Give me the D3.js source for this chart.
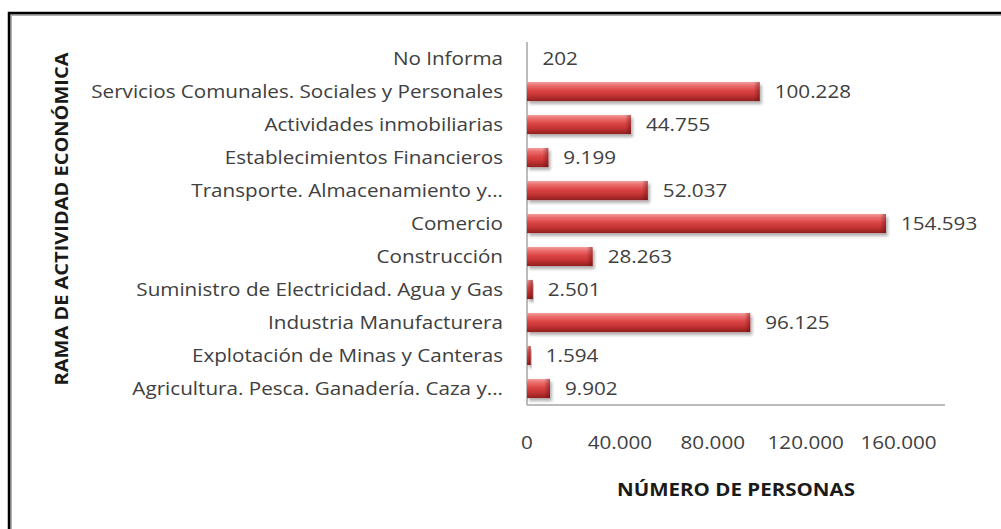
<!DOCTYPE html>
<html><head><meta charset="utf-8">
<script src="https://cdn.jsdelivr.net/npm/d3@7"></script>
<style>
html,body{margin:0;padding:0;background:#fff;}
svg{display:block;}
text{font-family:"Open Sans",Lato,sans-serif;}
</style></head>
<body>
<svg id="chart" width="1001" height="529"></svg>
<script>
const categories = [
  "No Informa",
  "Servicios Comunales. Sociales y Personales",
  "Actividades inmobiliarias",
  "Establecimientos Financieros",
  "Transporte. Almacenamiento y...",
  "Comercio",
  "Construcción",
  "Suministro de Electricidad. Agua y Gas",
  "Industria Manufacturera",
  "Explotación de Minas y Canteras",
  "Agricultura. Pesca. Ganadería. Caza y..."
];
const values = [202, 100228, 44755, 9199, 52037, 154593, 28263, 2501, 96125, 1594, 9902];
const tickValues = [0, 40000, 80000, 120000, 160000];
const xTitle = "NÚMERO DE PERSONAS";
const yTitle = "RAMA DE ACTIVIDAD ECONÓMICA";

const svg = d3.select("#chart");
const W = 1001, H = 529;
const FS = 18;

// measure a horizontal stretch so the text widths follow the reference
function measure(txt, size, weight) {
  const t = svg.append("text").attr("font-size", size).attr("font-weight", weight).text(txt);
  const w = t.node().getComputedTextLength();
  t.remove();
  return w;
}
const sReg = 412 / measure(categories[1], FS, "normal");
const sBold = 238 / measure(xTitle, 18, "bold");
const sBoldY = 333 / measure(yTitle, 18, "bold");

// frame
svg.append("rect").attr("x", 11).attr("y", 15).attr("width", W).attr("height", H)
  .attr("fill", "none").attr("stroke", "#b0b0b0").attr("stroke-width", 2);
svg.append("rect").attr("x", 9).attr("y", 13).attr("width", W).attr("height", H)
  .attr("fill", "none").attr("stroke", "#000").attr("stroke-width", 2.5);

const pLeft = 527, pRight = 945, pTop = 42, pBottom = 405;
const x = d3.scaleLinear().domain([0, 180000]).range([pLeft, pRight]);
const y = d3.scaleBand().domain(categories).range([pTop, pBottom]).paddingInner(0.42).paddingOuter(0.21);

const loc = d3.formatLocale({decimal: ",", thousands: ".", grouping: [3], currency: ["$", ""]});
const fmt = loc.format(",d");

const defs = svg.append("defs");
const g = defs.append("linearGradient").attr("id", "barGrad").attr("x1", 0).attr("y1", 0).attr("x2", 0).attr("y2", 1);
[[0, "#f2a0a0"], [0.18, "#ec6f6f"], [0.45, "#dc4545"], [0.75, "#bf3030"], [1, "#8e2020"]].forEach(s =>
  g.append("stop").attr("offset", s[0]).attr("stop-color", s[1]));
const gEnd = defs.append("linearGradient").attr("id", "endGrad").attr("x1", 0).attr("y1", 0).attr("x2", 1).attr("y2", 0);
[[0, "rgba(90,10,10,0)"], [1, "rgba(90,10,10,0.45)"]].forEach(s =>
  gEnd.append("stop").attr("offset", s[0]).attr("stop-color", s[1]));
const flt = defs.append("filter").attr("id", "shadow").attr("x", "-10%").attr("y", "-30%").attr("width", "130%").attr("height", "190%");
flt.append("feDropShadow").attr("dx", 2).attr("dy", 3).attr("stdDeviation", 1.5).attr("flood-color", "#000").attr("flood-opacity", 0.3);

// axes lines
svg.append("line").attr("x1", pLeft).attr("x2", pLeft).attr("y1", pTop).attr("y2", pBottom)
  .attr("stroke", "#a6a6a6").attr("stroke-width", 1.5);
svg.append("line").attr("x1", pLeft).attr("x2", pRight).attr("y1", pBottom).attr("y2", pBottom)
  .attr("stroke", "#a6a6a6").attr("stroke-width", 1.5);

// bars
const bars = svg.append("g");
categories.forEach((c, i) => {
  const w = x(values[i]) - x(0);
  if (w < 0.5) return;
  const bg = bars.append("g").attr("filter", "url(#shadow)");
  bg.append("rect").attr("x", x(0)).attr("y", y(c)).attr("width", w).attr("height", y.bandwidth())
    .attr("fill", "url(#barGrad)");
  bg.append("rect").attr("x", Math.max(x(0), x(values[i]) - 6)).attr("y", y(c))
    .attr("width", Math.min(6, w)).attr("height", y.bandwidth()).attr("fill", "url(#endGrad)");
});

// value labels
svg.append("g").selectAll("text").data(categories).join("text")
  .attr("transform", (c, i) => `translate(${x(values[i]) + 15},${y(c) + y.bandwidth() / 2}) scale(${sReg},1)`)
  .attr("dy", "0.35em")
  .attr("font-size", FS).attr("fill", "#404040")
  .text((c, i) => fmt(values[i]));

// category labels
svg.append("g").selectAll("text").data(categories).join("text")
  .attr("transform", c => `translate(503,${y(c) + y.bandwidth() / 2}) scale(${sReg},1)`)
  .attr("dy", "0.35em")
  .attr("text-anchor", "end")
  .attr("font-size", FS).attr("fill", "#404040")
  .text(c => c);

// x ticks
svg.append("g").selectAll("text").data(tickValues).join("text")
  .attr("transform", d => `translate(${x(d)},443) scale(${sReg},1)`)
  .attr("dy", "0.35em")
  .attr("text-anchor", "middle")
  .attr("font-size", FS).attr("fill", "#404040")
  .text(d => fmt(d));

// titles
svg.append("text").attr("transform", `translate(736,490) scale(${sBold},1)`).attr("dy", "0.35em")
  .attr("text-anchor", "middle").attr("font-size", 18).attr("font-weight", "bold").attr("fill", "#1a1a1a")
  .text(xTitle);
svg.append("text").attr("transform", `translate(62,219) rotate(-90) scale(${sBoldY},1)`).attr("dy", "0.35em")
  .attr("text-anchor", "middle").attr("font-size", 18).attr("font-weight", "bold").attr("fill", "#1a1a1a")
  .text(yTitle);
</script>
</body></html>
